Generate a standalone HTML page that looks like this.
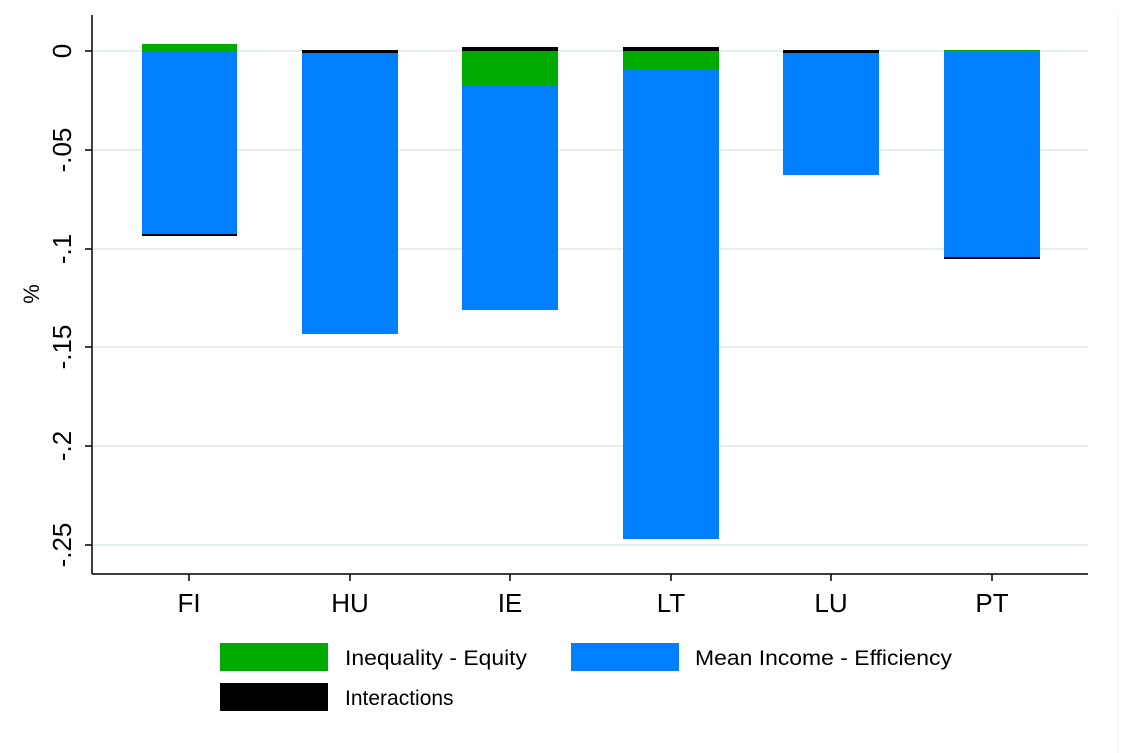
<!DOCTYPE html>
<html><head><style>body{margin:0;background:#fff}svg{display:block}</style></head><body>
<svg width="1133" height="753" xmlns="http://www.w3.org/2000/svg" font-family="Liberation Sans, Arial, sans-serif">
<rect width="1133" height="753" fill="#fff"/>
<line x1="1118" y1="12" x2="1118" y2="753" stroke="#eef3f6" stroke-width="1"/>
<g stroke="#e6eef2" stroke-width="2">
<line x1="93" y1="51" x2="1088" y2="51"/>
<line x1="93" y1="150" x2="1088" y2="150"/>
<line x1="93" y1="249" x2="1088" y2="249"/>
<line x1="93" y1="347" x2="1088" y2="347"/>
<line x1="93" y1="446" x2="1088" y2="446"/>
<line x1="93" y1="545" x2="1088" y2="545"/>
</g>
<rect x="142" y="44" width="95" height="7" fill="#00ab00"/>
<rect x="142" y="51" width="95" height="184" fill="#0080ff"/>
<rect x="142" y="234" width="95" height="2" fill="#000"/>
<rect x="302" y="50" width="96" height="3" fill="#000"/>
<rect x="302" y="53" width="96" height="281" fill="#0080ff"/>
<rect x="462" y="47" width="96" height="4" fill="#000"/>
<rect x="462" y="51" width="96" height="34" fill="#00ab00"/>
<rect x="462" y="85" width="96" height="225" fill="#0080ff"/>
<rect x="623" y="47" width="96" height="4" fill="#000"/>
<rect x="623" y="51" width="96" height="18" fill="#00ab00"/>
<rect x="623" y="69" width="96" height="470" fill="#0080ff"/>
<rect x="783" y="50" width="96" height="3" fill="#000"/>
<rect x="783" y="53" width="96" height="122" fill="#0080ff"/>
<rect x="944" y="50" width="96" height="1.5" fill="#00ab00"/>
<rect x="944" y="51.5" width="96" height="206" fill="#0080ff"/>
<rect x="944" y="257" width="96" height="2" fill="#000"/>
<line x1="92" y1="15" x2="92" y2="574" stroke="#000" stroke-width="1.5"/>
<line x1="92" y1="574" x2="1088" y2="574" stroke="#000" stroke-width="1.5"/>
<g stroke="#000" stroke-width="1.5">
<line x1="85" y1="51" x2="92" y2="51"/><line x1="85" y1="150" x2="92" y2="150"/>
<line x1="85" y1="249" x2="92" y2="249"/><line x1="85" y1="347" x2="92" y2="347"/>
<line x1="85" y1="446" x2="92" y2="446"/><line x1="85" y1="545" x2="92" y2="545"/>
<line x1="189" y1="574" x2="189" y2="581"/><line x1="350" y1="574" x2="350" y2="581"/>
<line x1="510" y1="574" x2="510" y2="581"/><line x1="671" y1="574" x2="671" y2="581"/>
<line x1="831" y1="574" x2="831" y2="581"/><line x1="992" y1="574" x2="992" y2="581"/>
</g>
<g font-size="26" text-anchor="middle">
<text transform="translate(71,51) rotate(-90)">0</text>
<text transform="translate(71,150) rotate(-90)">-.05</text>
<text transform="translate(71,249) rotate(-90)">-.1</text>
<text transform="translate(71,347) rotate(-90)">-.15</text>
<text transform="translate(71,446) rotate(-90)">-.2</text>
<text transform="translate(71,545) rotate(-90)">-.25</text>
<text transform="translate(39,294) rotate(-90)" font-size="22">%</text>
</g>
<g font-size="26" text-anchor="middle">
<text x="189" y="612">FI</text><text x="350" y="612">HU</text><text x="510" y="612">IE</text>
<text x="671" y="612">LT</text><text x="831" y="612">LU</text><text x="992" y="612">PT</text>
</g>
<rect x="220" y="643" width="108" height="28" fill="#00ab00"/>
<rect x="571" y="643" width="108" height="28" fill="#0080ff"/>
<rect x="220" y="683" width="108" height="28" fill="#000"/>
<g font-size="21">
<text x="345" y="665" textLength="182" lengthAdjust="spacingAndGlyphs">Inequality - Equity</text>
<text x="695" y="665" textLength="257" lengthAdjust="spacingAndGlyphs">Mean Income - Efficiency</text>
<text x="345" y="705">Interactions</text>
</g>
</svg>
</body></html>
